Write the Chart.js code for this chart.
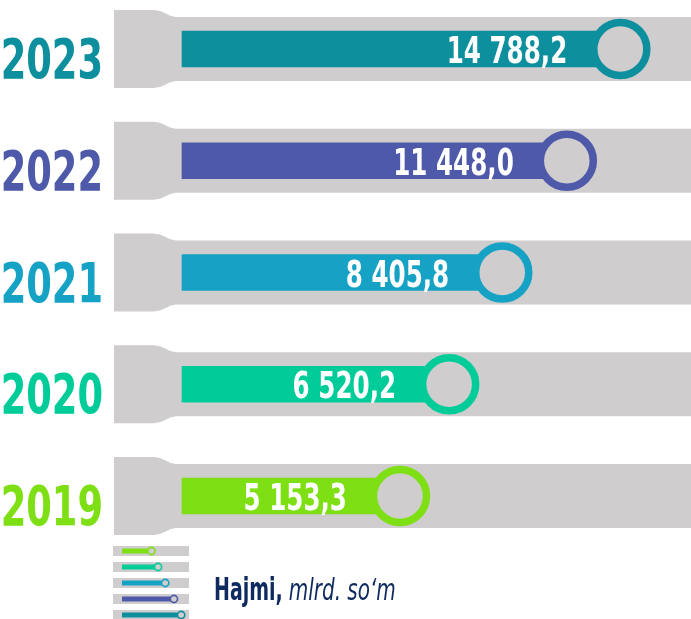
<!DOCTYPE html>
<html><head><meta charset="utf-8">
<script src="https://cdn.jsdelivr.net/npm/chart.js@4.4.1/dist/chart.umd.min.js"></script>
<style>html,body{margin:0;padding:0;background:#fff;overflow:hidden}</style>
</head><body>
<canvas id="c" width="691" height="619"></canvas>
<script>
const years = ['2023', '2022', '2021', '2020', '2019'];
const values = [14788.2, 11448.0, 8405.8, 6520.2, 5153.3];
const valueLabels = ['14 788,2', '11 448,0', '8 405,8', '6 520,2', '5 153,3'];
const colors = ['#0D8F9E', '#4E59AA', '#16A2C4', '#00CC99', '#7EE014'];
const legendTitle = 'Hajmi,';
const legendUnit = 'mlrd. so‘m';
const xMin = 1816, xMax = 20740;

const GREY = '#CFCDCE';
const FONT = "'DejaVu Sans Condensed','DejaVu Sans',sans-serif";

function scaledText(ctx, text, x, y, sx, font, color, align) {
  ctx.save();
  ctx.fillStyle = color;
  ctx.font = font;
  ctx.textAlign = align;
  ctx.textBaseline = 'alphabetic';
  ctx.translate(x, y);
  ctx.scale(sx, 1);
  ctx.fillText(text, 0, 0);
  ctx.restore();
}

const bgPlugin = {
  id: 'bg',
  beforeDatasetsDraw(chart) {
    const {ctx, chartArea, scales: {y}} = chart;
    const L = chartArea.left - 68;
    ctx.save();
    ctx.fillStyle = GREY;
    years.forEach((yr, i) => {
      const cy = y.getPixelForValue(i);
      const top = cy - 32, bot = cy + 32, tTop = cy - 39, tBot = cy + 39;
      ctx.beginPath();
      ctx.moveTo(L, tTop);
      ctx.lineTo(L + 37, tTop);
      ctx.bezierCurveTo(L + 51, tTop, L + 53, top, L + 64, top);
      ctx.lineTo(chartArea.right, top);
      ctx.lineTo(chartArea.right, bot);
      ctx.lineTo(L + 64, bot);
      ctx.bezierCurveTo(L + 53, bot, L + 51, tBot, L + 37, tBot);
      ctx.lineTo(L, tBot);
      ctx.closePath();
      ctx.fill();
      // year label
      scaledText(ctx, yr, L - 11, cy + 29, 0.73, 'bold 56px ' + FONT, colors[i], 'right');
    });
    ctx.restore();
  },
  afterDatasetsDraw(chart) {
    const {ctx} = chart;
    const meta = chart.getDatasetMeta(0);
    meta.data.forEach((bar, i) => {
      scaledText(ctx, valueLabels[i], bar.x - 53, bar.y + 14, 0.72, 'bold 38px ' + FONT, '#fff', 'right');
    });
  },
  afterDraw(chart) {
    const {ctx, chartArea, scales: {x}} = chart;
    const k = 0.135;
    ctx.save();
    for (let r = 0; r < years.length; r++) {
      const i = years.length - 1 - r;
      const cy = 551 + 16 * r;
      ctx.fillStyle = GREY;
      ctx.fillRect(113, cy - 5, 76, 10);
      const cx = 122 + (x.getPixelForValue(values[i]) - chartArea.left) * k;
      ctx.fillStyle = colors[i];
      ctx.fillRect(122, cy - 2.5, cx - 122, 5);
      ctx.beginPath();
      ctx.arc(cx, cy, 3.6, 0, Math.PI * 2);
      ctx.fillStyle = GREY;
      ctx.fill();
      ctx.lineWidth = 1.6;
      ctx.strokeStyle = colors[i];
      ctx.stroke();
    }
    ctx.restore();
    ctx.save();
    ctx.font = 'bold 32px ' + FONT;
    const w = ctx.measureText(legendTitle).width * 0.66;
    ctx.restore();
    scaledText(ctx, legendTitle, 214, 600, 0.66, 'bold 32px ' + FONT, '#0F2A5E', 'left');
    scaledText(ctx, legendUnit, 214 + w + 6, 600, 0.74, 'oblique 30px ' + FONT, '#0F2A5E', 'left');
  }
};

new Chart(document.getElementById('c'), {
  type: 'bar',
  data: {
    labels: years,
    datasets: [
      {
        type: 'bar',
        data: values,
        backgroundColor: colors,
        barThickness: 36,
        borderWidth: 0,
        clip: false,
        order: 1
      },
      {
        type: 'line',
        indexAxis: 'y',
        data: values,
        showLine: false,
        pointRadius: 26.5,
        pointHoverRadius: 26.5,
        pointBorderWidth: 7.5,
        pointBackgroundColor: GREY,
        pointBorderColor: colors,
        clip: false,
        order: 0
      }
    ]
  },
  options: {
    indexAxis: 'y',
    responsive: false,
    animation: false,
    events: [],
    layout: {autoPadding: false, padding: {top: 49, bottom: 123, left: 182, right: 0}},
    plugins: {legend: {display: false}, tooltip: {enabled: false}},
    scales: {
      x: {type: 'logarithmic', min: xMin, max: xMax, display: false},
      y: {display: false, offset: false}
    }
  },
  plugins: [bgPlugin]
});
</script>
</body></html>
